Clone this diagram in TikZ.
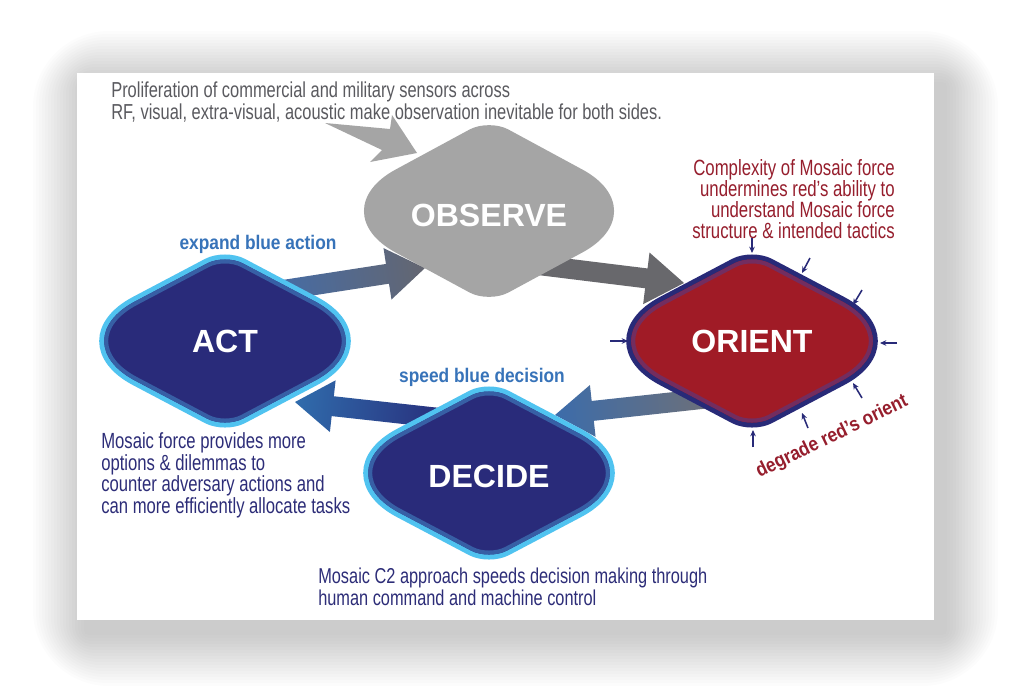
\documentclass[tikz,border=0pt]{standalone}
\usepackage{fontspec}
\setmainfont{Liberation Sans}
\newfontfamily\narrowfont[FakeStretch=0.76]{Liberation Sans}
\newfontfamily\labelfont[FakeStretch=0.88]{Liberation Sans}
\usetikzlibrary{arrows.meta,calc}
\definecolor{obsgray}{RGB}{165,165,165}
\definecolor{arrowgray}{RGB}{104,104,108}
\definecolor{navyfill}{RGB}{41,43,122}
\definecolor{skyedge}{RGB}{80,195,240}
\definecolor{rimblue}{RGB}{55,95,165}
\definecolor{redfill}{RGB}{160,27,38}
\definecolor{orientedge}{RGB}{40,42,120}
\definecolor{orientrim}{RGB}{115,45,95}
\definecolor{notegray}{RGB}{90,90,95}
\definecolor{notered}{RGB}{150,30,45}
\definecolor{notenavy}{RGB}{45,45,120}
\definecolor{labelblue}{RGB}{55,115,185}
\definecolor{actblue}{RGB}{68,108,168}
\definecolor{tipgray}{RGB}{100,102,112}
\definecolor{tailgray}{RGB}{112,112,118}
\definecolor{decideblue}{RGB}{60,108,170}
\definecolor{tailnavy}{RGB}{40,48,125}
\definecolor{tipblue}{RGB}{48,108,172}

% rounded rhombus: half width, half height, top rounding, side rounding
\newcommand{\setrhomb}[4]{%
  \pgfmathsetmacro{\rbL}{veclen(#1,#2)}%
  \pgfmathsetmacro{\rbTx}{#3*#1/\rbL}%
  \pgfmathsetmacro{\rbTy}{#2-#3*#2/\rbL}%
  \pgfmathsetmacro{\rbTcx}{0.45*#3*#1/\rbL}%
  \pgfmathsetmacro{\rbTcy}{#2-0.45*#3*#2/\rbL}%
  \pgfmathsetmacro{\rbSx}{#1-#4*#1/\rbL}%
  \pgfmathsetmacro{\rbSy}{#4*#2/\rbL}%
  \pgfmathsetmacro{\rbScx}{#1-0.45*#4*#1/\rbL}%
  \pgfmathsetmacro{\rbScy}{0.45*#4*#2/\rbL}%
}
\newcommand{\rhombpath}{(-\rbTx,-\rbTy) .. controls (-\rbTcx,-\rbTcy) and (\rbTcx,-\rbTcy) .. (\rbTx,-\rbTy)
  -- (\rbSx,-\rbSy) .. controls (\rbScx,-\rbScy) and (\rbScx,\rbScy) .. (\rbSx,\rbSy)
  -- (\rbTx,\rbTy) .. controls (\rbTcx,\rbTcy) and (-\rbTcx,\rbTcy) .. (-\rbTx,\rbTy)
  -- (-\rbSx,\rbSy) .. controls (-\rbScx,\rbScy) and (-\rbScx,-\rbScy) .. (-\rbSx,-\rbSy) -- cycle}

% shaded block arrow from #1 to #2
\newcommand{\blockarrow}[4]{%
  \path let \p1=($(#2)-(#1)$) in
    \pgfextra{\pgfmathsetmacro{\arrang}{atan2(\y1,\x1)}%
      \pgfmathsetmacro{\arrlen}{veclen(\x1,\y1)}%
      \global\let\arrang\arrang\global\let\arrlen\arrlen};
  \shade[left color=#3,right color=#4,transform canvas={shift={(#1)},rotate=\arrang}]
    (0pt,-7.1pt) -- ({\arrlen pt-27pt},-7.1pt) -- ({\arrlen pt-27pt},-18.5pt)
    -- ({\arrlen pt},0pt) -- ({\arrlen pt-27pt},18.5pt)
    -- ({\arrlen pt-27pt},7.1pt) -- (0pt,7.1pt) -- cycle;
}

\begin{document}
\begin{tikzpicture}[x=0.025cm,y=-0.025cm,
  stagelabel/.style={text=white,inner sep=0pt,font=\fontsize{22.8}{24}\selectfont\bfseries},
  note/.style={inner sep=0pt,align=left,font=\narrowfont\fontsize{15.4}{14.2}\selectfont},
  loopnote/.style={inner sep=0pt,font=\labelfont\bfseries\fontsize{14}{16}\selectfont},
  poke/.style={orientedge,line width=1.1pt,-{Stealth[length=4.5pt,width=4pt]}}]
  \useasboundingbox (0,0) rectangle (1010,693);
  \foreach \g in {3,6,...,54}
    \fill[black,opacity=0.013,rounded corners=\g pt] ({87-\g},{85-\g}) rectangle ({944+\g},{632+\g});
  \fill[white] (77,73) rectangle (934,620);

  \coordinate (observe) at (489,211);
  \coordinate (act) at (225,341);
  \coordinate (orient) at (752,341);
  \coordinate (decide) at (489,473);
  \coordinate (act-out) at (270,292);
  \coordinate (observe-in) at (425,268);
  \coordinate (observe-out) at (530,264);
  \coordinate (orient-in) at (684,283);
  \coordinate (orient-out) at (720,397);
  \coordinate (decide-in) at (555,415);
  \coordinate (decide-out) at (440,418);
  \coordinate (act-in) at (295,402);

  \fill[obsgray] (325,123) -- (390,129) -- (392,115) -- (417,153)
    -- (370,162) -- (382,150) -- cycle;
  \blockarrow{act-out}{observe-in}{actblue}{tipgray}
  \blockarrow{observe-out}{orient-in}{arrowgray}{arrowgray}
  \blockarrow{orient-out}{decide-in}{tailgray}{decideblue}
  \blockarrow{decide-out}{act-in}{tailnavy}{tipblue}

  \begin{scope}[shift={(observe)}]
    \setrhomb{170}{92}{22}{87}
    \fill[obsgray] \rhombpath;
  \end{scope}
  \foreach \stage in {act,decide}{
    \begin{scope}[shift={(\stage)}]
      \setrhomb{165}{87}{20}{85}
      \draw[skyedge,line width=7.1pt] \rhombpath;
      \fill[navyfill] \rhombpath;
      \begin{scope}
        \clip \rhombpath;
        \draw[rimblue,line width=5.7pt] \rhombpath;
      \end{scope}
    \end{scope}
  }
  \begin{scope}[shift={(orient)}]
    \setrhomb{165}{87}{20}{85}
    \draw[orientedge,line width=7.1pt] \rhombpath;
    \fill[redfill] \rhombpath;
    \begin{scope}
      \clip \rhombpath;
      \draw[orientrim,line width=5.7pt] \rhombpath;
    \end{scope}
  \end{scope}
  \foreach \ax/\ay/\bx/\by in {0/-103/0/-88,58/-83/50/-68,110/-51/101/-36,145/2/128/2,
      -142/0/-124/0,1/106/1/89,56/87/50/72,110/57/101/42}
    \draw[poke] ($(orient)+(\ax,\ay)$) -- ($(orient)+(\bx,\by)$);

  \node[stagelabel] (observe-label) at ($(observe)+(0,4)$) {OBSERVE};
  \node[stagelabel] (act-label) at (act) {ACT};
  \node[stagelabel] (orient-label) at (orient) {ORIENT};
  \node[stagelabel] (decide-label) at ($(decide)+(0,3)$) {DECIDE};

  \node[note,text=notegray,anchor=north west,font=\narrowfont\fontsize{15.4}{13.5}\selectfont]
    (sensors) at (111,82) {Proliferation of commercial and military sensors across\\
    RF, visual, extra-visual, acoustic make observation inevitable for both sides.};
  \node[note,text=notered,anchor=north east,align=right,font=\narrowfont\fontsize{15.7}{14.9}\selectfont]
    (complexity) at (895,159) {Complexity of Mosaic force\\undermines red’s ability to\\
    understand Mosaic force\\structure \& intended tactics};
  \node[note,text=notenavy,anchor=north west,font=\narrowfont\fontsize{15.6}{13.9}\selectfont]
    (options) at (101,432) {Mosaic force provides more\\options \& dilemmas to\\
    counter adversary actions and\\can more efficiently allocate tasks};
  \node[note,text=notenavy,anchor=north west,font=\narrowfont\fontsize{15.3}{14.2}\selectfont]
    (approach) at (318,568)
    {Mosaic C2 approach speeds decision making through\\human command and machine control};
  \node[loopnote,text=labelblue,anchor=base] (expand) at (258,249) {expand blue action};
  \node[loopnote,text=labelblue,anchor=base] (speed) at (482,382) {speed blue decision};
  \node[loopnote,text=notered,rotate=25.8] (degrade) at (832,437) {degrade red’s orient};
\end{tikzpicture}
\end{document}
